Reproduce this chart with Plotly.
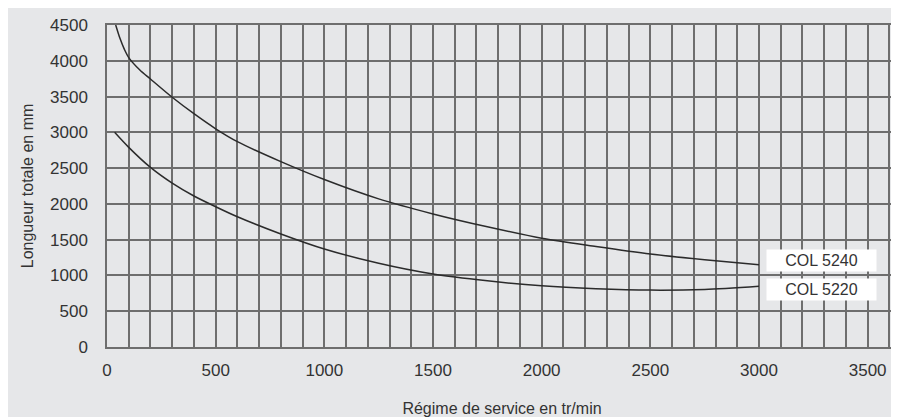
import plotly.graph_objects as go

# Régime de service (tr/min) et longueur totale (mm)
x_5240 = [40, 60, 80, 100, 150, 200, 300, 400, 500, 600, 800, 1000, 1250, 1500, 1750, 2000, 2250, 2500, 2750, 3000]
y_5240 = [4500, 4310, 4160, 4045, 3875, 3745, 3490, 3260, 3050, 2870, 2590, 2340, 2070, 1860, 1680, 1520, 1405, 1300, 1220, 1150]

x_5220 = [35, 100, 200, 300, 400, 500, 600, 800, 1000, 1250, 1500, 1750, 2000, 2250, 2500, 2750, 3000]
y_5220 = [3000, 2790, 2510, 2290, 2110, 1960, 1820, 1580, 1370, 1170, 1020, 925, 855, 815, 795, 805, 850]

labels = ['COL 5240', 'COL 5220']
label_x = [3288, 3288]
label_y = [1208, 808]

bg = '#e6e7e9'
grid = '#6e6e6e'
txt = '#333333'

fig = go.Figure()
for xs, ys, name in [(x_5240, y_5240, labels[0]), (x_5220, y_5220, labels[1])]:
    fig.add_trace(go.Scatter(x=xs, y=ys, mode='lines', name=name,
                             line=dict(color='#2b2b2b', width=1.5, shape='spline', smoothing=0.8),
                             showlegend=False))

for t, lx, ly in zip(labels, label_x, label_y):
    fig.add_annotation(x=lx, y=ly, text=t, showarrow=False,
                       bgcolor='white', width=105, height=17, borderpad=2,
                       font=dict(size=16, color=txt))

# la page ajoute 8 px de marge au corps : on compense dans les marges
fig.update_layout(
    width=899, height=417,
    margin=dict(l=99, r=8, t=12, b=78),
    paper_bgcolor=bg, plot_bgcolor=bg,
    font=dict(family='Liberation Sans, Arial, sans-serif', color=txt, size=16),
)
fig.update_xaxes(range=[0, 3635], dtick=500, tick0=0,
                 showgrid=True, gridcolor=grid, gridwidth=1.5,
                 minor=dict(dtick=100, showgrid=True, gridcolor=grid, gridwidth=1.5),
                 zeroline=False, showline=True, linecolor=grid, linewidth=1.5, mirror=True,
                 ticklabelstandoff=7, tickfont=dict(size=17),
                 title=dict(text='Régime de service en tr/min', standoff=24, font=dict(size=16)))
fig.update_yaxes(range=[0, 4500], dtick=500, tick0=0,
                 showgrid=True, gridcolor=grid, gridwidth=1.5,
                 zeroline=False, showline=True, linecolor=grid, linewidth=1.5, mirror=True,
                 ticklabelstandoff=14, tickfont=dict(size=17),
                 title=dict(text='Longueur totale en mm', standoff=12, font=dict(size=16)))

fig.write_html("out.html")
